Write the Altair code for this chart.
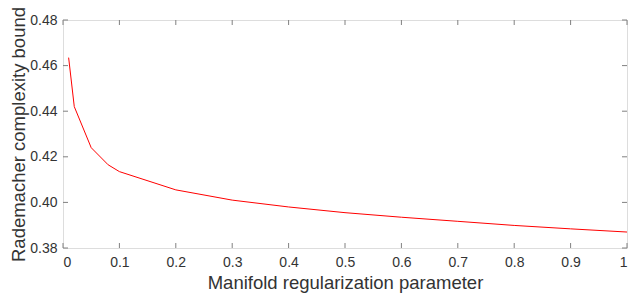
import altair as alt
import pandas as pd

x_vals = [0.01, 0.02, 0.05, 0.08, 0.1, 0.2, 0.3, 0.4, 0.5, 0.6, 0.7, 0.8, 0.9, 1.0]
y_vals = [0.4635, 0.442, 0.424, 0.4165, 0.4135, 0.4055, 0.401, 0.398, 0.3955, 0.3935, 0.3917, 0.3899, 0.3884, 0.387]
x_ticks = [0, 0.1, 0.2, 0.3, 0.4, 0.5, 0.6, 0.7, 0.8, 0.9, 1.0]
y_ticks = [0.38, 0.40, 0.42, 0.44, 0.46, 0.48]

W, H = 564, 228
df = pd.DataFrame({"x": x_vals, "y": y_vals})
xt = pd.DataFrame({"x": x_ticks})
yt = pd.DataFrame({"y": y_ticks})

xs = alt.Scale(domain=[0, 1], nice=False, zero=False)
ys = alt.Scale(domain=[0.38, 0.48], nice=False, zero=False)
TXT = "#333333"
AX = "#808080"
FONT = "Liberation Sans"

line = alt.Chart(df).mark_line(color="#ff0000", strokeWidth=1).encode(
    x=alt.X("x:Q", scale=xs, axis=alt.Axis(
        values=x_ticks, format="~g", title="Manifold regularization parameter",
        tickSize=0, domain=False, grid=False, labelPadding=7,
        titleX=W / 2, titleY=40.5, titleBaseline="alphabetic", titleAlign="center",
        labelFontSize=14, titleFontSize=18.5, labelColor=TXT, titleColor=TXT,
        labelFont=FONT, titleFont=FONT, titleFontWeight="normal")),
    y=alt.Y("y:Q", scale=ys, axis=alt.Axis(
        values=y_ticks, format=".2f", title="Rademacher complexity bound",
        tickSize=0, domain=False, grid=False, labelPadding=6,
        titleX=-54, titleY=H / 2, titleAngle=270, titleBaseline="top", titleAlign="center",
        labelFontSize=14, titleFontSize=18.5, labelColor=TXT, titleColor=TXT,
        labelFont=FONT, titleFont=FONT, titleFontWeight="normal")),
)

tb = alt.Chart(xt).mark_rule(color=AX, strokeWidth=1).encode(
    x=alt.X("x:Q", scale=xs), y=alt.value(H), y2=alt.value(H - 5))
tt = alt.Chart(xt).mark_rule(color=AX, strokeWidth=1).encode(
    x=alt.X("x:Q", scale=xs), y=alt.value(0), y2=alt.value(5))
tl = alt.Chart(yt).mark_rule(color=AX, strokeWidth=1).encode(
    y=alt.Y("y:Q", scale=ys), x=alt.value(0), x2=alt.value(5))
tr = alt.Chart(yt).mark_rule(color=AX, strokeWidth=1).encode(
    y=alt.Y("y:Q", scale=ys), x=alt.value(W), x2=alt.value(W - 5))

chart = alt.layer(line, tb, tt, tl, tr).properties(
    width=W, height=H,
    autosize=alt.AutoSizeParams(type="none"),
    padding={"left": 55, "top": 12, "right": 5, "bottom": 45},
).configure_view(stroke=AX, strokeWidth=1.5).configure(background="white")

chart.save("out.html", embed_options={"renderer": "svg", "actions": False})
